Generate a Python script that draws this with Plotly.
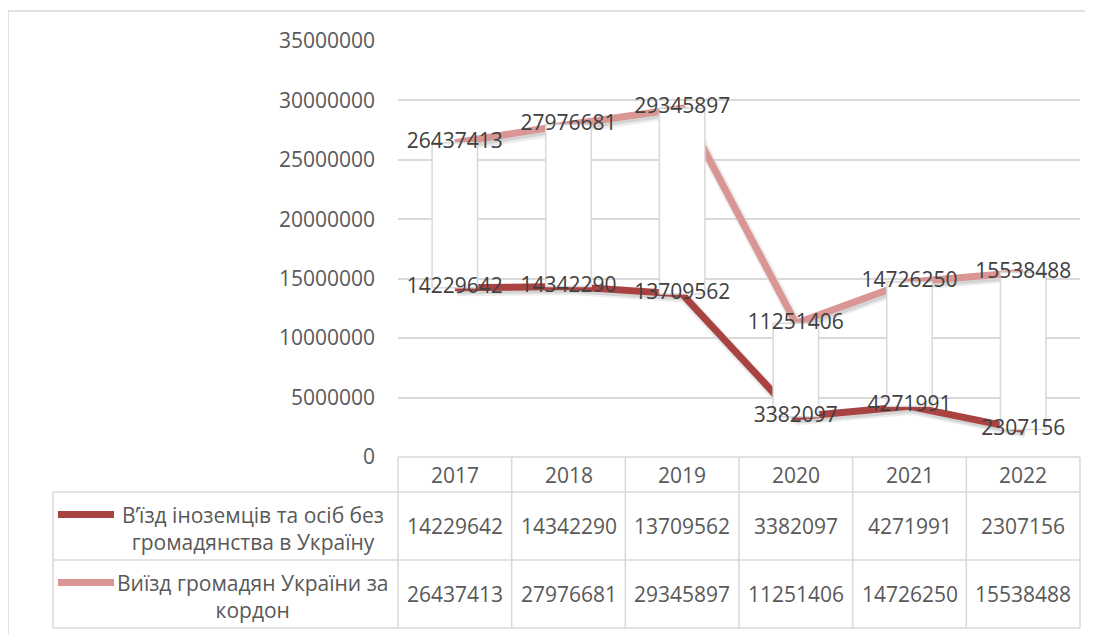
import plotly.graph_objects as go

years = ['2017', '2018', '2019', '2020', '2021', '2022']
entry_foreigners = [14229642, 14342290, 13709562, 3382097, 4271991, 2307156]
exit_citizens = [26437413, 27976681, 29345897, 11251406, 14726250, 15538488]
series_names = ['В’їзд іноземців та осіб без громадянства в Україну',
                'Виїзд громадян України за кордон']
legend_labels = ['В’їзд іноземців та осіб без<br>громадянства в Україну',
                 'Виїзд громадян України за<br>кордон']
y_ticks = [0, 5000000, 10000000, 15000000, 20000000, 25000000, 30000000, 35000000]

W, H = 1093, 635
OFF = 8  # page body margin offset
def px(x): return (x - OFF) / W
def py(y): return 1 - (y - OFF) / H

L, R, T, B = 398, 1080, 41, 457
DARK = '#A94341'
PINK = '#D99694'
GRID = '#D9D9D9'
TXT = '#595959'
FONT = 'Open Sans'
FS = 21
SHX, SHY = 2, 3  # shadow offset in px

xs = list(range(len(years)))
fig = go.Figure()

# soft shadows of the lines (on a slightly shifted, invisible subplot)
for vals in (entry_foreigners, exit_citizens):
    fig.add_trace(go.Scatter(x=xs, y=vals, mode='lines', xaxis='x', yaxis='y',
                             line=dict(color='rgba(0,0,0,0.07)', width=11), hoverinfo='skip'))
    fig.add_trace(go.Scatter(x=xs, y=vals, mode='lines', xaxis='x', yaxis='y',
                             line=dict(color='rgba(0,0,0,0.10)', width=7), hoverinfo='skip'))

# lines
fig.add_trace(go.Scatter(x=xs, y=entry_foreigners, mode='lines', name=series_names[0], xaxis='x2', yaxis='y2',
                         line=dict(color=DARK, width=7), hoverinfo='y'))
fig.add_trace(go.Scatter(x=xs, y=exit_citizens, mode='lines', name=series_names[1], xaxis='x2', yaxis='y2',
                         line=dict(color=PINK, width=7), hoverinfo='y'))

# up/down bars (white boxes between the two series)
bx, by = [], []
hw = 0.2
for i, (a, b) in enumerate(zip(entry_foreigners, exit_citizens)):
    lo, hi = min(a, b), max(a, b)
    bx += [i - hw, i + hw, i + hw, i - hw, i - hw, None]
    by += [lo, lo, hi, hi, lo, None]
fig.add_trace(go.Scatter(x=bx, y=by, mode='lines', fill='toself', fillcolor='white', xaxis='x2', yaxis='y2',
                         line=dict(color=GRID, width=1.5), hoverinfo='skip'))

# data labels
for vals in (entry_foreigners, exit_citizens):
    fig.add_trace(go.Scatter(x=xs, y=vals, mode='text', text=[str(v) for v in vals], xaxis='x2', yaxis='y2',
                             textposition='middle center',
                             textfont=dict(family=FONT, size=FS, color='#404040'),
                             hoverinfo='skip'))

shapes = []
# outer chart border
shapes.append(dict(type='rect', xref='paper', yref='paper', x0=px(8), y0=py(11), x1=px(1110), y1=py(660),
                   line=dict(color=GRID, width=1.5), layer='below'))

# data table
col_w = (R - L) / len(years)
row_y = [457, 492, 560, 628]
shapes.append(dict(type='line', xref='paper', yref='paper', x0=px(L), x1=px(R), y0=py(row_y[0]), y1=py(row_y[0]),
                   line=dict(color=GRID, width=1.5)))
for yy in row_y[1:]:
    shapes.append(dict(type='line', xref='paper', yref='paper', x0=px(53), x1=px(R), y0=py(yy), y1=py(yy),
                       line=dict(color=GRID, width=1.5)))
shapes.append(dict(type='line', xref='paper', yref='paper', x0=px(53), x1=px(53), y0=py(row_y[1]), y1=py(row_y[3]),
                   line=dict(color=GRID, width=1.5)))
for k in range(len(years) + 1):
    xx = L + k * col_w
    shapes.append(dict(type='line', xref='paper', yref='paper', x0=px(xx), x1=px(xx), y0=py(row_y[0]), y1=py(row_y[3]),
                       line=dict(color=GRID, width=1.5)))

annotations = []
row_centers = [(row_y[0] + row_y[1]) / 2, (row_y[1] + row_y[2]) / 2, (row_y[2] + row_y[3]) / 2]
for i, yr in enumerate(years):
    annotations.append(dict(x=i, xref='x2', y=py(row_centers[0]), yref='paper', text=yr, showarrow=False,
                            font=dict(family=FONT, size=FS, color=TXT), xanchor='center', yanchor='middle'))
    annotations.append(dict(x=i, xref='x2', y=py(row_centers[1]), yref='paper', text=str(entry_foreigners[i]),
                            showarrow=False, font=dict(family=FONT, size=FS, color=TXT), xanchor='center', yanchor='middle'))
    annotations.append(dict(x=i, xref='x2', y=py(row_centers[2]), yref='paper', text=str(exit_citizens[i]),
                            showarrow=False, font=dict(family=FONT, size=FS, color=TXT), xanchor='center', yanchor='middle'))

for r, (lab, col) in enumerate(zip(legend_labels, [DARK, PINK])):
    yc = row_centers[r + 1] + 2
    annotations.append(dict(x=px(253), xref='paper', y=py(yc), yref='paper', text=lab, showarrow=False,
                            font=dict(family=FONT, size=FS, color=TXT), xanchor='center', yanchor='middle',
                            align='center'))
    ky = yc - 13.5
    shapes.append(dict(type='line', xref='paper', yref='paper', x0=px(58), x1=px(114), y0=py(ky), y1=py(ky),
                       line=dict(color=col, width=7)))

xr = [-0.5, len(years) - 0.5]
fig.update_layout(
    width=W, height=H,
    margin=dict(l=0, r=0, t=0, b=0, pad=0, autoexpand=False),
    paper_bgcolor='white', plot_bgcolor='rgba(0,0,0,0)',
    showlegend=False,
    shapes=shapes, annotations=annotations,
    font=dict(family=FONT, size=FS, color=TXT),
    # shadow subplot (shifted by a few px, invisible)
    xaxis=dict(domain=[px(L + SHX), px(R + SHX)], range=xr, visible=False, fixedrange=True, automargin=False),
    yaxis=dict(domain=[py(B + SHY), py(T + SHY)], range=[0, 35000000], visible=False, fixedrange=True,
               automargin=False),
    # main subplot
    xaxis2=dict(domain=[px(L), px(R)], range=xr, showgrid=False, zeroline=False, anchor='y2',
                showticklabels=False, showline=False, fixedrange=True, automargin=False),
    yaxis2=dict(domain=[py(B), py(T)], range=[0, 35000000], tickvals=y_ticks, tickformat='d', anchor='x2',
                showgrid=True, gridcolor=GRID, gridwidth=1.5, zeroline=False, showline=False,
                tickfont=dict(family=FONT, size=FS, color=TXT), ticklabelstandoff=22, fixedrange=True,
                automargin=False),
)

fig.write_html('out.html')
